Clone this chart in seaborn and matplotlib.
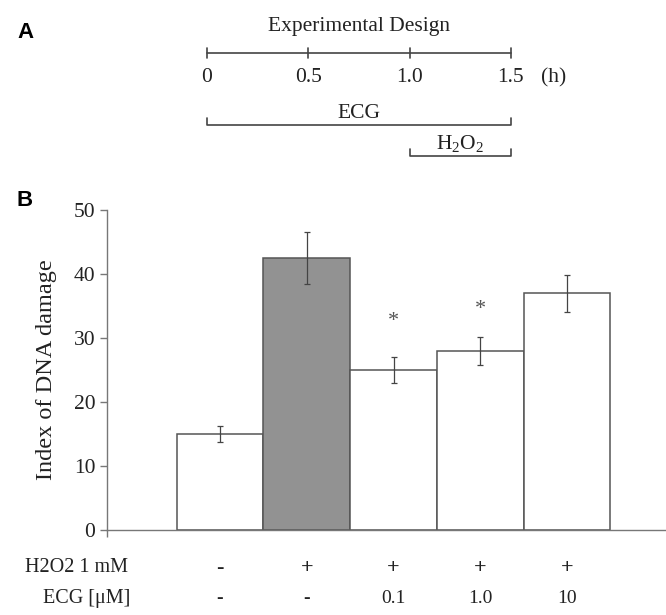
import seaborn as sns
import pandas as pd
import numpy as np
import matplotlib
matplotlib.use('Agg')
import matplotlib.pyplot as plt

# data
groups = ['ctrl', 'H2O2', 'ECG 0.1', 'ECG 1.0', 'ECG 10']
damage = [15.0, 42.5, 25.0, 28.0, 37.0]
damage_err = [1.3, 4.0, 2.1, 2.2, 2.9]
star_y = {2: 32.5, 3: 34.4}
h2o2_row = ['-', '+', '+', '+', '+']
ecg_row = ['-', '-', '0.1', '1.0', '10']
bar_colors = ['white', '#929292', 'white', 'white', 'white']

time_ticks = [0, 0.5, 1.0, 1.5]
time_tick_labels = ['0', '0.5', '1.0', '1.5']
ecg_period = (0, 1.5)
h2o2_period = (1.0, 1.5)

sns.set_theme(style='white')
plt.rcParams['font.family'] = ['Liberation Serif', 'DejaVu Serif']
plt.rcParams['mathtext.fontset'] = 'custom'
plt.rcParams['mathtext.rm'] = 'Liberation Serif'
plt.rcParams['mathtext.it'] = 'Liberation Serif:italic'

txt = '#222222'
line_c = '#444444'

fig = plt.figure(figsize=(6.66, 6.15), dpi=100)

# ---- panel A: experimental design timeline
axa = fig.add_axes([0, 1 - 180 / 615, 1, 180 / 615])
axa.set_xlim(-1.021, 2.265)
axa.set_ylim(180, 0)
axa.axis('off')
axa.plot([time_ticks[0], time_ticks[-1]], [53, 53], color=line_c, lw=1.2)
for t, lab in zip(time_ticks, time_tick_labels):
    axa.plot([t, t], [48, 58], color=line_c, lw=1.2)
    axa.text(t, 78, lab, ha='center', va='center', fontsize=15.5, color=txt)
axa.text(1.71, 78, '(h)', ha='center', va='center', fontsize=15.5, color=txt)
axa.text(0.75, 27, 'Experimental Design', ha='center', va='center', fontsize=15.5, color=txt)

# treatment periods as brackets
for (t0, t1), yb, lab, xl in [(ecg_period, 125, 'ECG', 0.75),
                             (h2o2_period, 156, r'H$_2$O$_2$', 1.25)]:
    axa.plot([t0, t0, t1, t1], [yb - 7, yb, yb, yb - 7], color=line_c, lw=1.2)
    axa.text(xl, yb - 12, lab, ha='center', va='center', fontsize=15.5, color=txt)

fig.text(17 / 666, 1 - 32 / 615, 'A', fontsize=16, fontweight='bold',
         family='Liberation Sans', ha='left', va='center', color='black')
fig.text(17 / 666, 1 - 200 / 615, 'B', fontsize=16, fontweight='bold',
         family='Liberation Sans', ha='left', va='center', color='black')

# ---- panel B: bars
df = pd.DataFrame({'group': groups, 'damage': damage})
axb = fig.add_axes([107 / 666, 85 / 615, 559 / 666, 320 / 615])
sns.barplot(data=df, x='group', y='damage', hue='group', palette=bar_colors,
            width=1.0, edgecolor='#555555', linewidth=1.1, legend=False, ax=axb)
axb.errorbar(range(len(groups)), damage, yerr=damage_err, fmt='none',
             ecolor='#444444', elinewidth=0.9, capsize=2, capthick=0.9)
for i, y in star_y.items():
    axb.text(i, y, '*', ha='center', va='center', fontsize=16, color='#555555')

xmin, xmax = -1.303, 5.141
axb.set_xlim(xmin, xmax)
axb.set_ylim(0, 50)
axb.set_yticks([0, 10, 20, 30, 40, 50])
axb.set_xticks([xmin])
axb.set_xticklabels([''])
axb.tick_params(axis='both', direction='out', length=5, width=1, color='#777777',
                labelsize=15.5, labelcolor=txt, left=True, bottom=True)
for s in ['top', 'right']:
    axb.spines[s].set_visible(False)
for s in ['left', 'bottom']:
    axb.spines[s].set_color('#777777')
    axb.spines[s].set_linewidth(1)
axb.set_xlabel('')
axb.set_ylabel('Index of DNA damage', fontsize=17.5, color=txt, labelpad=12)

# treatment rows under the bars
for i, (a, b) in enumerate(zip(h2o2_row, ecg_row)):
    axb.text(i, -0.118, a, transform=axb.get_xaxis_transform(), ha='center',
             va='center', fontsize=16, color=txt, fontweight='bold')
    axb.text(i, -0.215, b, transform=axb.get_xaxis_transform(), ha='center',
             va='center', fontsize=14, color=txt,
             fontweight='bold' if b == '-' else 'normal')
fig.text(128 / 666, 1 - 568 / 615, 'H2O2 1 mM', fontsize=14.5, ha='right', va='center', color=txt)
fig.text(130 / 666, 1 - 599 / 615, 'ECG [\u03bcM]', fontsize=14.5, ha='right', va='center', color=txt)

fig.savefig('out.png', dpi=100)
